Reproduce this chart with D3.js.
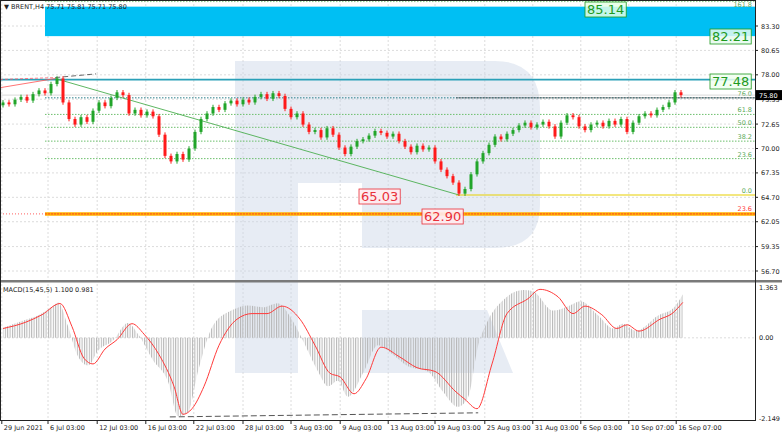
<!DOCTYPE html>
<html>
<head>
<meta charset="utf-8">
<script src="https://cdn.jsdelivr.net/npm/d3@7"></script>
<style>
  body { margin: 0; background: #fff; }
  svg { display: block; font-family: Tahoma, "DejaVu Sans", sans-serif; }
</style>
</head>
<body>
<div id="chart"></div>
<script>
// H4 closes, one entry per drawn candle
const closes = [75.0, 74.8, 75.3, 75.6, 75.2, 75.9, 76.3, 76.0, 77.0, 77.6,
  75.0, 73.2, 72.6, 73.4, 72.9, 74.1, 75.0, 74.6, 75.5, 76.1,
  75.8, 73.8, 74.2, 73.6, 74.0, 73.5, 71.5, 69.2, 68.6, 69.4,
  68.8, 70.0, 71.8, 73.2, 73.8, 74.5, 74.2, 74.9, 75.2, 74.8,
  75.3, 75.0, 75.6, 75.9, 75.4, 76.0, 75.7, 74.3, 73.4, 73.8,
  72.6, 71.8, 72.0, 71.2, 72.2, 71.5, 70.1, 69.4, 70.2, 70.8,
  71.0, 71.4, 71.9, 71.7, 71.3, 71.6, 70.8, 70.2, 69.6, 70.3,
  69.9, 70.1, 68.6, 67.7, 67.0, 66.3, 65.1, 65.6, 67.2, 68.6,
  69.5, 70.4, 71.3, 71.0, 71.6, 72.0, 72.5, 72.8, 72.3, 72.6,
  72.9, 72.4, 71.3, 72.8, 73.6, 73.4, 72.4, 72.0, 72.6, 72.8,
  72.4, 73.0, 72.6, 73.2, 71.8, 72.8, 73.5, 73.8, 73.6, 74.2,
  74.5, 75.0, 76.1, 75.8];

const priceTicks = [83.30, 80.65, 78.00, 75.35, 72.65, 70.00, 67.35, 64.70, 62.05, 59.35, 56.70];
const timeLabels = ["29 Jun 2021", "6 Jul 03:00", "12 Jul 03:00", "16 Jul 03:00", "22 Jul 03:00",
  "28 Jul 03:00", "3 Aug 03:00", "9 Aug 03:00", "13 Aug 03:00", "19 Aug 03:00",
  "25 Aug 03:00", "31 Aug 03:00", "6 Sep 03:00", "10 Sep 07:00", "16 Sep 07:00"];
const timeTickIdx = [0.3, 8, 16.2, 24.3, 32.3, 40.5, 48.5, 56.7, 64.7, 72.5, 80.8, 88.8, 96.8, 104.8, 112.7];

// fibonacci grid levels (retracement from 65.03 up to 77.48)
const fibLabels = ["76.0", "61.8", "50.0", "38.2", "23.6"];
const fibPrices = [75.5, 73.7, 72.3, 70.8, 68.9];

// MACD main line knots (candle index, value)
const macdIdx = [0, 3.3, 5.8, 8.3, 9.2, 10.8, 12.5, 14.2, 15.8, 18.3, 20.8, 22.5, 25, 27.5, 29.2, 30.8,
  32.5, 35, 38.3, 40.8, 43.3, 45.8, 48.3, 50, 52.5, 54.2, 55.8, 57.5, 60, 62.5, 65, 67.5, 70.8,
  73.3, 75.8, 77.5, 79.2, 80.8, 83.3, 86.7, 88.3, 91.7, 94.2, 96.3, 99.2, 101.7, 103.3, 105.5,
  109.2, 111.7, 113.3];
const macdVal = [0.27, 0.46, 0.6, 0.85, 0.95, 0.33, -0.5, -0.74, -0.35, -0.08, 0.4, 0.1, -0.6, -1.17, -2.1, -2.0,
  -0.9, 0.33, 0.75, 0.87, 0.82, 0.93, 0.45, -0.08, -0.9, -1.3, -1.15, -1.58, -0.95, -0.2, -0.45, -0.76, -0.9,
  -1.44, -1.85, -1.6, -0.2, 0.46, 1.0, 1.28, 1.25, 0.73, 0.85, 0.98, 0.6, 0.25, 0.38, 0.19,
  0.6, 0.79, 1.17];
// signal line knots
const sigIdx = [0, 3.8, 6.5, 9.5, 11.5, 13.5, 15, 17, 19, 21.5, 23.5, 26, 28.5, 30, 31.5, 33.5, 36, 39, 41.5,
  44, 46.5, 49.5, 52, 54.5, 56.2, 58.5, 60.5, 63, 66, 69, 72, 75.5, 77, 79, 81.5, 84, 87.5, 89.5,
  92.5, 95, 97, 99.8, 102.3, 104, 106, 109.5, 111.5, 113.3];
const sigVal = [0.25, 0.42, 0.62, 0.92, 0.3, -0.55, -0.7, -0.3, -0.05, 0.38, 0.1, -0.45, -1.3, -2.05, -1.9, -1.3,
  -0.2, 0.5, 0.65, 0.65, 0.85, 0.5, -0.2, -0.95, -1.05, -1.5, -1.1, -0.25, -0.5, -0.8, -0.9,
  -1.45, -1.65, -1.9, -0.7, 0.65, 1.05, 1.3, 1.1, 0.65, 0.85, 0.62, 0.25, 0.35, 0.18, 0.5, 0.65, 0.95];

const W = 782, H = 434, axisX = 755;
const svg = d3.select("#chart").append("svg").attr("width", W).attr("height", H);

const x = d3.scaleLinear().domain([0, 126]).range([0, 756]);
const y = d3.scaleLinear().domain([56.70, 83.30]).range([271, 26]);
const ym = d3.scaleLinear().domain([-2.149, 1.363]).range([418, 287]);

// hatch pattern for histogram
const defs = svg.append("defs");
const pat = defs.append("pattern").attr("id", "hatch").attr("patternUnits", "userSpaceOnUse")
  .attr("width", 2.4).attr("height", 4);
pat.append("rect").attr("width", 1).attr("height", 4).attr("fill", "#b4b4b4");

// grid
const grid = svg.append("g").attr("stroke", "#dcdcdc").attr("stroke-dasharray", "2,2");
timeTickIdx.forEach(t => {
  grid.append("line").attr("x1", x(t)).attr("x2", x(t)).attr("y1", 0).attr("y2", 420);
});
priceTicks.forEach(p => {
  grid.append("line").attr("x1", 0).attr("x2", axisX).attr("y1", y(p)).attr("y2", y(p));
});
grid.append("line").attr("x1", 0).attr("x2", axisX).attr("y1", ym(0)).attr("y2", ym(0));

// watermark
svg.append("path").attr("fill", "#c9d5e6").attr("opacity", 0.45)
  .attr("d", "M235,61H495Q540,61 540,108V205Q540,248 495,248H362V183H298V373H235Z M362,310H487L513,373H362Z");

// blue target zone
svg.append("rect").attr("x", x(7.5)).attr("width", axisX - x(7.5))
  .attr("y", y(85.4)).attr("height", y(82.2) - y(85.4)).attr("fill", "#00bff3");

// fibo levels
const fib = svg.append("g").attr("font-size", 6.5);
fibPrices.forEach((p, i) => {
  fib.append("line").attr("x1", x(7.5)).attr("x2", axisX).attr("y1", y(p)).attr("y2", y(p))
    .attr("stroke", i === 0 ? "#2a7f8a" : "#6cbf6c").attr("stroke-dasharray", "1.5,1.5");
  fib.append("text").attr("x", 752).attr("y", y(p) - 2).attr("text-anchor", "end")
    .attr("fill", "#5aaa5a").text(fibLabels[i]);
});
fib.append("text").attr("x", 752).attr("y", 7).attr("text-anchor", "end").attr("fill", "#5aaa5a").text("161.8");
svg.append("line").attr("x1", x(7.5)).attr("x2", axisX).attr("y1", y(85.95)).attr("y2", y(85.95))
  .attr("stroke", "#8fcf8f").attr("stroke-dasharray", "1.5,1.5");

// yellow 0.0 and orange 23.6
svg.append("line").attr("x1", x(76)).attr("x2", axisX).attr("y1", y(64.95)).attr("y2", y(64.95))
  .attr("stroke", "#e8d000").attr("stroke-width", 1.2);
fib.append("text").attr("x", 752).attr("y", y(64.95) - 2).attr("text-anchor", "end").attr("fill", "#5aaa5a").text("0.0");
svg.append("line").attr("x1", x(7.5)).attr("x2", axisX).attr("y1", y(62.9)).attr("y2", y(62.9))
  .attr("stroke", "#ffb000").attr("stroke-width", 3.5);
svg.append("line").attr("x1", x(7.5)).attr("x2", axisX).attr("y1", y(62.9)).attr("y2", y(62.9))
  .attr("stroke", "#ff3030").attr("stroke-width", 0.8).attr("stroke-dasharray", "2,1");
svg.append("line").attr("x1", 0).attr("x2", x(7.5)).attr("y1", y(62.9)).attr("y2", y(62.9))
  .attr("stroke", "#ff6060").attr("stroke-dasharray", "1,2");
fib.append("text").attr("x", 752).attr("y", y(62.9) - 3).attr("text-anchor", "end").attr("fill", "#ff4040").text("23.6");

// 77.48 resistance line
svg.append("line").attr("x1", 0).attr("x2", axisX).attr("y1", y(77.48)).attr("y2", y(77.48))
  .attr("stroke", "#2aa0b8").attr("stroke-width", 1.6);
// 76.0 dark line and current price line
svg.append("line").attr("x1", x(76)).attr("x2", axisX).attr("y1", y(75.5)).attr("y2", y(75.5))
  .attr("stroke", "#333").attr("stroke-width", 0.6);
svg.append("line").attr("x1", 0).attr("x2", axisX).attr("y1", y(75.8)).attr("y2", y(75.8))
  .attr("stroke", "#d0d0d0").attr("stroke-width", 0.8);

// trend lines
svg.append("line").attr("x1", x(9.2)).attr("y1", y(77.6)).attr("x2", x(76.5)).attr("y2", y(64.95))
  .attr("stroke", "#4caf50").attr("stroke-width", 0.9);
svg.append("line").attr("x1", 0).attr("y1", y(76.6)).attr("x2", x(9.2)).attr("y2", y(77.6))
  .attr("stroke", "#ff5050").attr("stroke-width", 0.8);
svg.append("line").attr("x1", 0).attr("y1", y(77.5)).attr("x2", x(9.2)).attr("y2", y(77.7))
  .attr("stroke", "#ff6070").attr("stroke-dasharray", "3,2").attr("stroke-width", 0.8);
svg.append("line").attr("x1", x(9.2)).attr("y1", y(77.7)).attr("x2", x(16)).attr("y2", y(78.1))
  .attr("stroke", "#444").attr("stroke-dasharray", "5,3").attr("stroke-width", 0.8);

// candles
const candles = svg.append("g");
closes.forEach((c, i) => {
  const o = i === 0 ? 74.7 : closes[i - 1];
  const up = c >= o;
  const col = up ? "#22a52a" : "#ff1a1a";
  const cx = x(i) + 3;
  candles.append("line").attr("x1", cx).attr("x2", cx)
    .attr("y1", y(Math.max(o, c) + 0.25)).attr("y2", y(Math.min(o, c) - 0.25)).attr("stroke", col);
  candles.append("rect").attr("x", cx - 1.5).attr("width", 3)
    .attr("y", y(Math.max(o, c))).attr("height", Math.max(1, y(Math.min(o, c)) - y(Math.max(o, c))))
    .attr("fill", col);
});

// price labels
function tag(txt, px, py, fg, bg, size) {
  const g = svg.append("g");
  const t = g.append("text").attr("x", px).attr("y", py).attr("font-size", size).attr("fill", fg).text(txt);
  const b = t.node().getBBox();
  g.insert("rect", "text").attr("x", b.x - 2).attr("y", b.y).attr("width", b.width + 4).attr("height", b.height)
    .attr("fill", bg).attr("stroke", fg).attr("stroke-width", 0.8);
}
tag("85.14", 587, 14, "#1e9a1e", "rgba(230,255,230,0.85)", 13);
tag("82.21", 712, 41, "#1e9a1e", "rgba(230,250,240,0.85)", 13);
tag("77.48", 712, 86, "#1e9a1e", "rgba(240,255,240,0.85)", 13);
tag("65.03", 361, 201, "#e8303a", "rgba(255,235,238,0.9)", 13);
tag("62.90", 424, 221, "#e8303a", "rgba(255,235,238,0.9)", 13);

// MACD histogram
const area = d3.area().x((d, i) => x(macdIdx[i]) + 3).y0(ym(0)).y1(d => ym(d)).curve(d3.curveMonotoneX);
svg.append("path").attr("d", area(macdVal)).attr("fill", "url(#hatch)");
const line = d3.line().x((d, i) => x(sigIdx[i]) + 3).y(d => ym(d)).curve(d3.curveMonotoneX);
svg.append("path").attr("d", line(sigVal)).attr("fill", "none").attr("stroke", "#ff3b3b").attr("stroke-width", 1);
svg.append("line").attr("x1", x(28.3)).attr("y1", ym(-2.12)).attr("x2", x(79.7)).attr("y2", ym(-2.01))
  .attr("stroke", "#555").attr("stroke-dasharray", "6,3");

// pane separator and axes
svg.append("rect").attr("x", 0).attr("y", 280).attr("width", W).attr("height", 2.5).attr("fill", "#7a7a7a");
svg.append("line").attr("x1", axisX + 0.5).attr("x2", axisX + 0.5).attr("y1", 0).attr("y2", 420).attr("stroke", "#222");
svg.append("rect").attr("x", 0.5).attr("y", 0.5).attr("width", axisX).attr("height", 420).attr("fill", "none").attr("stroke", "#222");

const ax = svg.append("g").attr("font-size", 6.5).attr("fill", "#222");
priceTicks.forEach(p => {
  ax.append("line").attr("x1", axisX).attr("x2", axisX + 3).attr("y1", y(p)).attr("y2", y(p)).attr("stroke", "#222");
  ax.append("text").attr("x", 761).attr("y", y(p) + 2.5).text(p.toFixed(2));
});
[[1.363, "1.363"], [0, "0.00"], [-2.149, "-2.149"]].forEach(([v, s]) => {
  ax.append("text").attr("x", 759).attr("y", ym(v) + 2.5).text(s);
});
timeTickIdx.forEach((t, i) => {
  ax.append("line").attr("x1", x(t)).attr("x2", x(t)).attr("y1", 420).attr("y2", 424).attr("stroke", "#222");
  ax.append("text").attr("x", x(t) + 2).attr("y", 430).text(timeLabels[i]);
});

// current price box
svg.append("rect").attr("x", 756).attr("y", y(75.8) - 5).attr("width", 26).attr("height", 10).attr("fill", "#000");
svg.append("text").attr("x", 759).attr("y", y(75.8) + 2.5).attr("font-size", 6.5).attr("fill", "#fff").text("75.80");

// headers
svg.append("text").attr("x", 4).attr("y", 9).attr("font-size", 6.5).attr("fill", "#222").text("\u25BC BRENT,H4   75.71 75.81 75.71 75.80");
svg.append("text").attr("x", 3).attr("y", 292).attr("font-size", 6.5).attr("fill", "#222").text("MACD(15,45,5) 1.100 0.981");
</script>
</body>
</html>
